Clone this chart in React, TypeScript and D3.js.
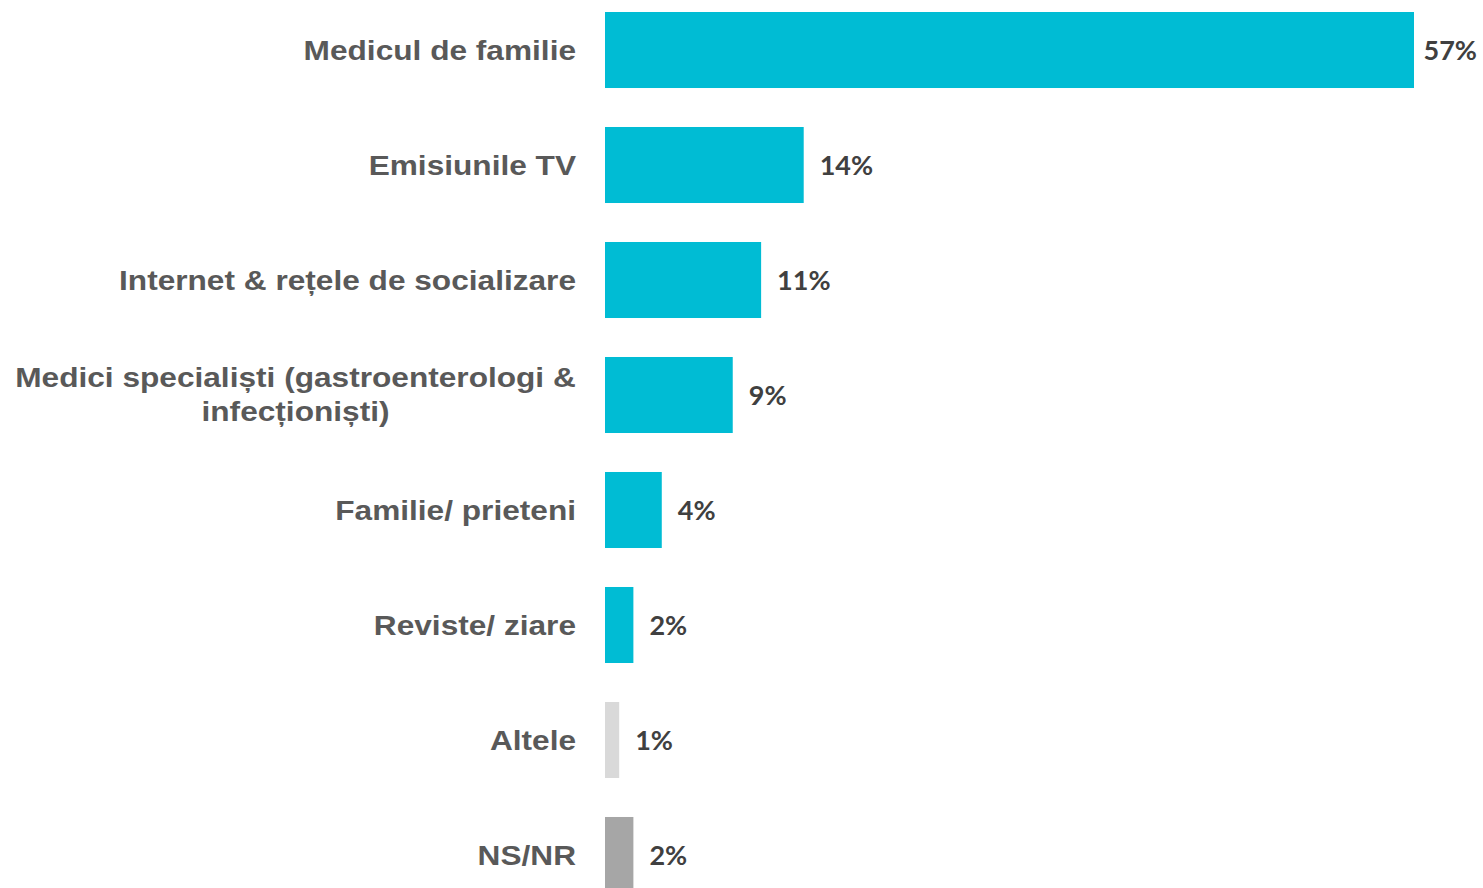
import React from "react";
import * as d3 from "d3";

const categories: string[][] = [
  ["Medicul de familie"],
  ["Emisiunile TV"],
  ["Internet & rețele de socializare"],
  ["Medici specialiști (gastroenterologi &", "infecționiști)"],
  ["Familie/ prieteni"],
  ["Reviste/ ziare"],
  ["Altele"],
  ["NS/NR"],
];
const values: number[] = [57, 14, 11, 9, 4, 2, 1, 2];
const colors: string[] = ["#00BCD4", "#00BCD4", "#00BCD4", "#00BCD4", "#00BCD4", "#00BCD4", "#D9D9D9", "#A6A6A6"];

const W = 1483;
const H = 888;

export default function App() {
  const keys = categories.map((c) => c.join(" "));
  const x = d3.scaleLinear().domain([0, 57]).range([605, 1414]);
  const y = d3.scaleBand<string>().domain(keys).range([12, 893]).paddingInner(0.339).paddingOuter(0);
  const labelRight = 576;
  const sx = 1.13;
  return (
    <svg width={W} height={H} style={{ position: "absolute", left: 0, top: 0, background: "#fff" }}>
      {categories.map((lines, i) => {
        const k = keys[i];
        const cy = (y(k) as number) + y.bandwidth() / 2;
        const bw = x(values[i]) - x(0);
        const end = x(values[i]);
        const valText = `${values[i]}%`;
        const fits = end + 16 + 56 <= W;
        let labelNode;
        if (lines.length === 1) {
          labelNode = (
            <g transform={`translate(${labelRight},${cy}) scale(${sx},1)`}>
              <text x={0} y={0} dy="0.35em" textAnchor="end" fontFamily="Liberation Sans, Arial" fontWeight="bold" fontSize={28} fill="#595959">
                {lines[0]}
              </text>
            </g>
          );
        } else {
          const lineH = 34;
          const centerX = (15 + labelRight) / 2;
          labelNode = (
            <g transform={`translate(${centerX},${cy}) scale(${sx},1)`}>
              <text fontFamily="Liberation Sans, Arial" fontWeight="bold" fontSize={28} fill="#595959" textAnchor="middle">
                {lines.map((ln, j) => (
                  <tspan key={j} x={0} y={(j - (lines.length - 1) / 2) * lineH - 1} dy="0.35em">
                    {ln}
                  </tspan>
                ))}
              </text>
            </g>
          );
        }
        return (
          <g key={k}>
            <rect x={x(0)} y={y(k)} width={bw} height={y.bandwidth()} fill={colors[i]} />
            {labelNode}
            <text
              x={fits ? end + 16 : W - 6}
              y={cy + 1}
              dy="0.35em"
              textAnchor={fits ? "start" : "end"}
              fontFamily="Lato, Open Sans, sans-serif"
              fontWeight="bold"
              fontSize={27}
              fill="#404040"
            >
              {valText}
            </text>
          </g>
        );
      })}
    </svg>
  );
}
